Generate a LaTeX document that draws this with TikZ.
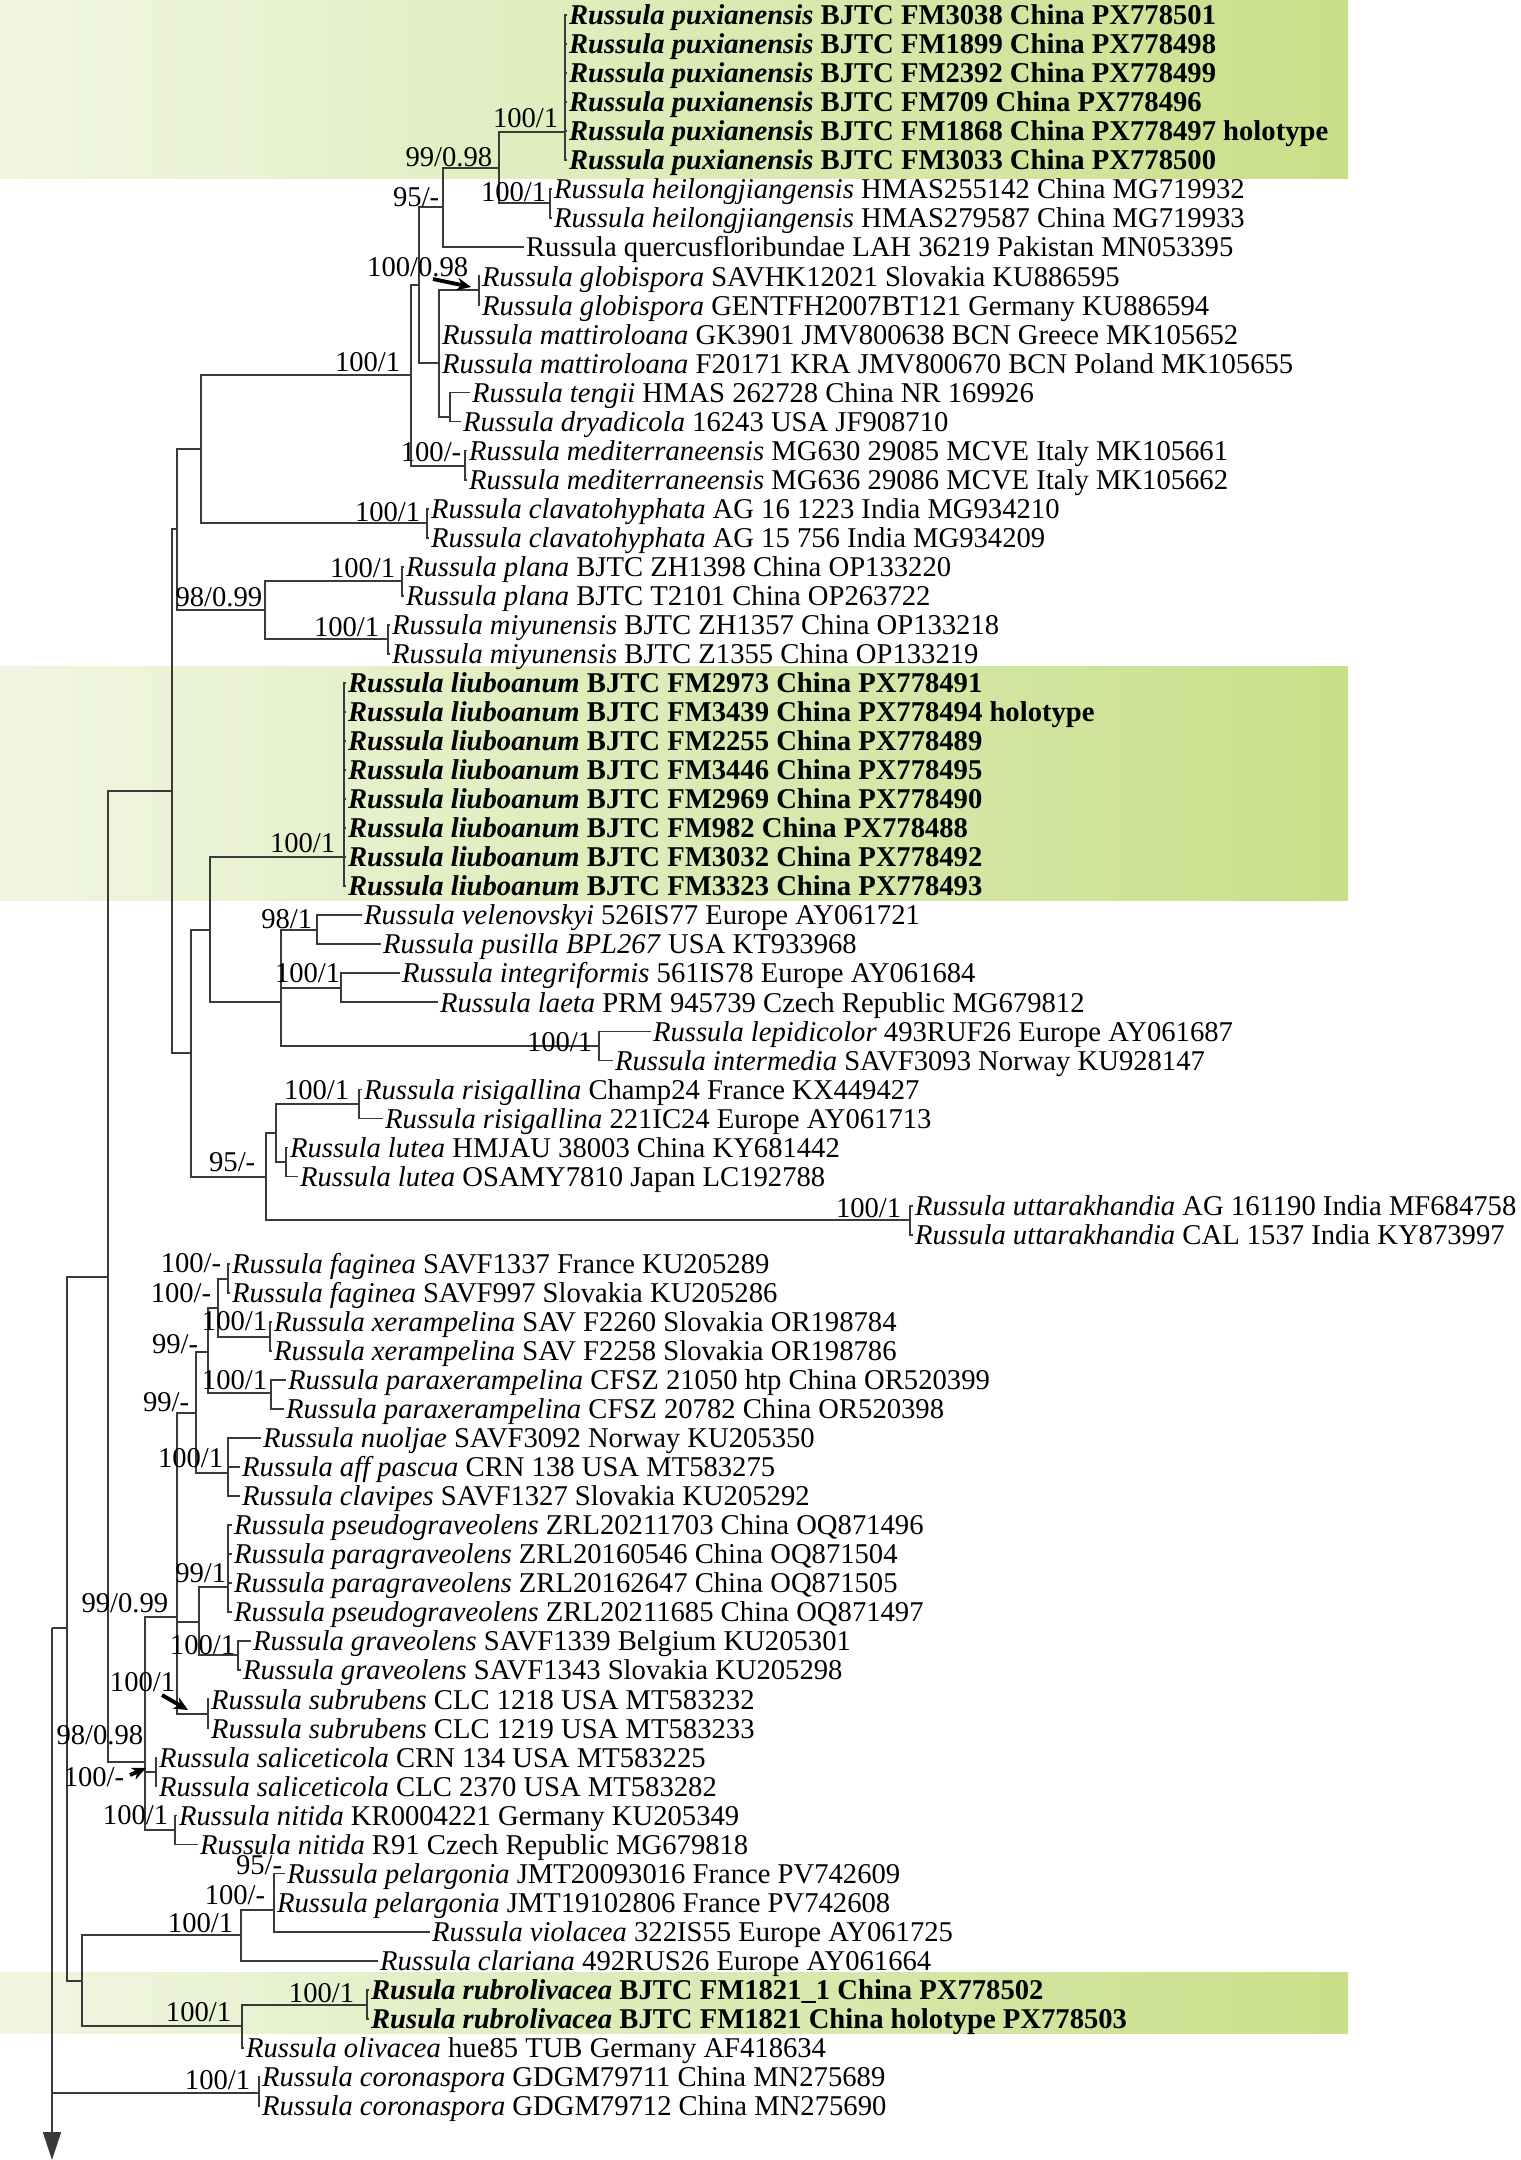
\documentclass[tikz,border=0pt]{standalone}
\usepackage{fontspec}
\setmainfont{Liberation Serif}
\usetikzlibrary{arrows.meta}
\definecolor{gA}{HTML}{F1F6E2}
\definecolor{gB}{HTML}{D7E8AC}
\definecolor{gC}{HTML}{B6D35A}
\definecolor{brc}{HTML}{3A3A3A}
\pgfdeclarehorizontalshading{gfade}{100bp}{color(0bp)=(white); color(4bp)=(white); color(25bp)=(gA); color(56bp)=(gB); color(100bp)=(gC)}
\tikzset{
 leafn/.style={anchor=west, inner sep=0.4pt, text height=5.5pt, text depth=0pt, font=\fontsize{8.15}{9}\selectfont},
 lab/.style={anchor=east, inner sep=0.3pt, text height=5.6pt, text depth=0pt, font=\fontsize{8.15}{9}\selectfont},
 br/.style={draw=brc, line width=0.5pt},
 pointer/.style={draw=black, line width=1.1pt, -{Stealth[length=4pt,width=3.6pt]}}
}
\newcommand\lf[4]{\node[leafn] (#1) at (#3,{15+29.04*(#2-1)}) {#4};}
\newcommand\cladeii[3]{\draw[br] (#2) -- (#1 |- #2) -- (#1 |- #3) -- (#3);}
\newcommand\twig[2]{\draw[br] (#1 |- #2) -- (#2);}
\newcommand\BI[2]{\textbf{\textit{#1} #2}}
\begin{document}
\begin{tikzpicture}[x=0.1mm,y=-0.1mm]
\useasboundingbox (0,0) rectangle (1521,2160);
% highlight bands
\shade[shading=gfade] (0,0) rectangle (1348,178);
\shade[shading=gfade] (0,666) rectangle (1348,900);
\shade[shading=gfade] (0,1972) rectangle (1348,2033);

% leaves
\lf{l1}{1}{567}{\BI{Russula puxianensis}{BJTC FM3038 China PX778501}}
\lf{l2}{2}{567}{\BI{Russula puxianensis}{BJTC FM1899 China PX778498}}
\lf{l3}{3}{567}{\BI{Russula puxianensis}{BJTC FM2392 China PX778499}}
\lf{l4}{4}{567}{\BI{Russula puxianensis}{BJTC FM709 China PX778496}}
\lf{l5}{5}{567}{\BI{Russula puxianensis}{BJTC FM1868 China PX778497 holotype}}
\lf{l6}{6}{567}{\BI{Russula puxianensis}{BJTC FM3033 China PX778500}}
\lf{l7}{7}{552}{\textit{Russula heilongjiangensis} HMAS255142 China MG719932}
\lf{l8}{8}{552}{\textit{Russula heilongjiangensis} HMAS279587 China MG719933}
\lf{l9}{9}{524}{Russula quercusfloribundae LAH 36219 Pakistan MN053395}
\lf{l10}{10}{480}{\textit{Russula globispora} SAVHK12021 Slovakia KU886595}
\lf{l11}{11}{480}{\textit{Russula globispora} GENTFH2007BT121 Germany KU886594}
\lf{l12}{12}{440}{\textit{Russula mattiroloana} GK3901 JMV800638 BCN Greece MK105652}
\lf{l13}{13}{440}{\textit{Russula mattiroloana} F20171 KRA JMV800670 BCN Poland MK105655}
\lf{l14}{14}{470}{\textit{Russula tengii} HMAS 262728 China NR 169926}
\lf{l15}{15}{461}{\textit{Russula dryadicola} 16243 USA JF908710}
\lf{l16}{16}{467}{\textit{Russula mediterraneensis} MG630 29085 MCVE Italy MK105661}
\lf{l17}{17}{467}{\textit{Russula mediterraneensis} MG636 29086 MCVE Italy MK105662}
\lf{l18}{18}{429}{\textit{Russula clavatohyphata} AG 16 1223 India MG934210}
\lf{l19}{19}{429}{\textit{Russula clavatohyphata} AG 15 756 India MG934209}
\lf{l20}{20}{404}{\textit{Russula plana} BJTC ZH1398 China OP133220}
\lf{l21}{21}{404}{\textit{Russula plana} BJTC T2101 China OP263722}
\lf{l22}{22}{390}{\textit{Russula miyunensis} BJTC ZH1357 China OP133218}
\lf{l23}{23}{390}{\textit{Russula miyunensis} BJTC Z1355 China OP133219}
\lf{l24}{24}{346}{\BI{Russula liuboanum}{BJTC FM2973 China PX778491}}
\lf{l25}{25}{346}{\BI{Russula liuboanum}{BJTC FM3439 China PX778494 holotype}}
\lf{l26}{26}{346}{\BI{Russula liuboanum}{BJTC FM2255 China PX778489}}
\lf{l27}{27}{346}{\BI{Russula liuboanum}{BJTC FM3446 China PX778495}}
\lf{l28}{28}{346}{\BI{Russula liuboanum}{BJTC FM2969 China PX778490}}
\lf{l29}{29}{346}{\BI{Russula liuboanum}{BJTC FM982 China PX778488}}
\lf{l30}{30}{346}{\BI{Russula liuboanum}{BJTC FM3032 China PX778492}}
\lf{l31}{31}{346}{\BI{Russula liuboanum}{BJTC FM3323 China PX778493}}
\lf{l32}{32}{362}{\textit{Russula velenovskyi} 526IS77 Europe AY061721}
\lf{l33}{33}{381}{\textit{Russula pusilla BPL267} USA KT933968}
\lf{l34}{34}{400}{\textit{Russula integriformis} 561IS78 Europe AY061684}
\lf{l35}{35}{438}{\textit{Russula laeta} PRM 945739 Czech Republic MG679812}
\lf{l36}{36}{651}{\textit{Russula lepidicolor} 493RUF26 Europe AY061687}
\lf{l37}{37}{613}{\textit{Russula intermedia} SAVF3093 Norway KU928147}
\lf{l38}{38}{362}{\textit{Russula risigallina} Champ24 France KX449427}
\lf{l39}{39}{383}{\textit{Russula risigallina} 221IC24 Europe AY061713}
\lf{l40}{40}{288}{\textit{Russula lutea} HMJAU 38003 China KY681442}
\lf{l41}{41}{298}{\textit{Russula lutea} OSAMY7810 Japan LC192788}
\lf{l42}{42}{913}{\textit{Russula uttarakhandia} AG 161190 India MF684758}
\lf{l43}{43}{913}{\textit{Russula uttarakhandia} CAL 1537 India KY873997}
\lf{l44}{44}{230}{\textit{Russula faginea} SAVF1337 France KU205289}
\lf{l45}{45}{230}{\textit{Russula faginea} SAVF997 Slovakia KU205286}
\lf{l46}{46}{272}{\textit{Russula xerampelina} SAV F2260 Slovakia OR198784}
\lf{l47}{47}{272}{\textit{Russula xerampelina} SAV F2258 Slovakia OR198786}
\lf{l48}{48}{286}{\textit{Russula paraxerampelina} CFSZ 21050 htp China OR520399}
\lf{l49}{49}{284}{\textit{Russula paraxerampelina} CFSZ 20782 China OR520398}
\lf{l50}{50}{261}{\textit{Russula nuoljae} SAVF3092 Norway KU205350}
\lf{l51}{51}{240}{\textit{Russula aff pascua} CRN 138 USA MT583275}
\lf{l52}{52}{240}{\textit{Russula clavipes} SAVF1327 Slovakia KU205292}
\lf{l53}{53}{232}{\textit{Russula pseudograveolens} ZRL20211703 China OQ871496}
\lf{l54}{54}{232}{\textit{Russula paragraveolens} ZRL20160546 China OQ871504}
\lf{l55}{55}{232}{\textit{Russula paragraveolens} ZRL20162647 China OQ871505}
\lf{l56}{56}{232}{\textit{Russula pseudograveolens} ZRL20211685 China OQ871497}
\lf{l57}{57}{251}{\textit{Russula graveolens} SAVF1339 Belgium KU205301}
\lf{l58}{58}{241}{\textit{Russula graveolens} SAVF1343 Slovakia KU205298}
\lf{l59}{59}{209}{\textit{Russula subrubens} CLC 1218 USA MT583232}
\lf{l60}{60}{209}{\textit{Russula subrubens} CLC 1219 USA MT583233}
\lf{l61}{61}{157}{\textit{Russula saliceticola} CRN 134 USA MT583225}
\lf{l62}{62}{157}{\textit{Russula saliceticola} CLC 2370 USA MT583282}
\lf{l63}{63}{177}{\textit{Russula nitida} KR0004221 Germany KU205349}
\lf{l64}{64}{198}{\textit{Russula nitida} R91 Czech Republic MG679818}
\lf{l65}{65}{285}{\textit{Russula pelargonia} JMT20093016 France PV742609}
\lf{l66}{66}{275}{\textit{Russula pelargonia} JMT19102806 France PV742608}
\lf{l67}{67}{430}{\textit{Russula violacea} 322IS55 Europe AY061725}
\lf{l68}{68}{378}{\textit{Russula clariana} 492RUS26 Europe AY061664}
\lf{l69}{69}{369}{\BI{Rusula rubrolivacea}{BJTC FM1821\_1 China PX778502}}
\lf{l70}{70}{369}{\BI{Rusula rubrolivacea}{BJTC FM1821 China holotype PX778503}}
\lf{l71}{71}{244}{\textit{Russula olivacea} hue85 TUB Germany AF418634}
\lf{l72}{72}{260}{\textit{Russula coronaspora} GDGM79711 China MN275689}
\lf{l73}{73}{260}{\textit{Russula coronaspora} GDGM79712 China MN275690}

% internal nodes
\coordinate (rt) at (52,1628);
\coordinate (rtend) at (52,2160);
\coordinate (O) at (67,1628);
\coordinate (N) at (108,1277);
\coordinate (G) at (172,791);
\coordinate (E) at (177,529);
\coordinate (D) at (201,449);
\coordinate (A) at (411,375);
\coordinate (B) at (419,285);
\coordinate (n95a) at (443,207);
\coordinate (n99a) at (499,168);
\coordinate (pux) at (565,132);
\coordinate (heil) at (550,203);
\coordinate (C) at (439,363);
\coordinate (glob) at (479,290);
\coordinate (td) at (450,417);
\coordinate (med) at (465,466);
\coordinate (clv) at (427,523);
\coordinate (F) at (265,610);
\coordinate (pla) at (402,581);
\coordinate (miy) at (388,639);
\coordinate (H) at (191,1053);
\coordinate (I) at (210,930);
\coordinate (liu) at (344,857);
\coordinate (J) at (281,1002);
\coordinate (K) at (317,930);
\coordinate (L) at (341,988);
\coordinate (M) at (599,1046);
\coordinate (X) at (266,1177);
\coordinate (dd) at (276,1133);
\coordinate (ris) at (359,1104);
\coordinate (lut) at (286,1162);
\coordinate (utt) at (910,1220);
\coordinate (U) at (145,1762);
\coordinate (bb) at (177,1617);
\coordinate (Y) at (196,1413);
\coordinate (Z) at (208,1352);
\coordinate (Z1) at (218,1308);
\coordinate (fag) at (228,1279);
\coordinate (xer) at (270,1337);
\coordinate (pax) at (271,1393);
\coordinate (aa) at (228,1473);
\coordinate (cc) at (199,1622);
\coordinate (pg) at (228,1587);
\coordinate (grv) at (238,1655);
\coordinate (sub) at (208,1714);
\coordinate (sal) at (156,1772);
\coordinate (nit) at (175,1830);
\coordinate (P) at (82,1981);
\coordinate (Q) at (241,1935);
\coordinate (S) at (274,1910);
\coordinate (R) at (242,2026);
\coordinate (T) at (367,2005);
\coordinate (cor) at (259,2093);

% branches
\draw[br,-{Triangle[length=2.8mm,width=1.8mm]}] (rt) -- (rtend);
\twig{rt}{O} \twig{rt}{cor}
\cladeii{O}{N}{P}
\cladeii{N}{G}{U}
\cladeii{G}{E}{H}
\cladeii{E}{D}{F}
\cladeii{D}{A}{clv}
\cladeii{A}{B}{med}
\cladeii{B}{n95a}{C}
\cladeii{n95a}{n99a}{l9}
\cladeii{n99a}{pux}{heil}
\cladeii{pux}{l1}{l6} \twig{pux}{l2} \twig{pux}{l3} \twig{pux}{l4} \twig{pux}{l5}
\cladeii{heil}{l7}{l8}
\cladeii{C}{glob}{td} \twig{C}{l12} \twig{C}{l13}
\cladeii{glob}{l10}{l11}
\cladeii{td}{l14}{l15}
\cladeii{med}{l16}{l17}
\cladeii{clv}{l18}{l19}
\cladeii{F}{pla}{miy}
\cladeii{pla}{l20}{l21}
\cladeii{miy}{l22}{l23}
\cladeii{H}{I}{X}
\cladeii{I}{liu}{J}
\cladeii{liu}{l24}{l31} \twig{liu}{l25} \twig{liu}{l26} \twig{liu}{l27} \twig{liu}{l28} \twig{liu}{l29} \twig{liu}{l30}
\cladeii{J}{K}{M} \twig{J}{L}
\cladeii{K}{l32}{l33}
\cladeii{L}{l34}{l35}
\cladeii{M}{l36}{l37}
\cladeii{X}{dd}{utt}
\cladeii{dd}{ris}{lut}
\cladeii{ris}{l38}{l39}
\cladeii{lut}{l40}{l41}
\cladeii{utt}{l42}{l43}
\cladeii{U}{bb}{nit} \twig{U}{sal}
\cladeii{bb}{Y}{sub} \twig{bb}{cc}
\cladeii{Y}{Z}{aa}
\cladeii{Z}{Z1}{pax}
\cladeii{Z1}{fag}{xer}
\cladeii{fag}{l44}{l45}
\cladeii{xer}{l46}{l47}
\cladeii{pax}{l48}{l49}
\cladeii{aa}{l50}{l52} \twig{aa}{l51}
\cladeii{cc}{pg}{grv}
\cladeii{pg}{l53}{l56} \twig{pg}{l54} \twig{pg}{l55}
\cladeii{grv}{l57}{l58}
\cladeii{sub}{l59}{l60}
\cladeii{sal}{l61}{l62}
\cladeii{nit}{l63}{l64}
\cladeii{P}{Q}{R}
\cladeii{Q}{S}{l68}
\cladeii{S}{l65}{l67} \twig{S}{l66}
\cladeii{R}{T}{l71}
\cladeii{T}{l69}{l70}
\cladeii{cor}{l72}{l73}

% support values
\node[lab] (s1) at (560,118) {100/1};
\node[lab] (s2) at (494,157) {99/0.98};
\node[lab] (s3) at (548,192) {100/1};
\node[lab] (s4) at (441,197) {95/-};
\node[lab] (s5) at (470,267) {100/0.98};
\node[lab] (s6) at (402,362) {100/1};
\node[lab] (s7) at (463,452) {100/-};
\node[lab] (s8) at (422,512) {100/1};
\node[lab] (s9) at (397,568) {100/1};
\node[lab] (s10) at (264,597) {98/0.99};
\node[lab] (s11) at (381,627) {100/1};
\node[lab] (s12) at (337,843) {100/1};
\node[lab] (s13) at (314,919) {98/1};
\node[lab] (s14) at (342,973) {100/1};
\node[lab] (s15) at (594,1042) {100/1};
\node[lab] (s16) at (351,1090) {100/1};
\node[lab] (s17) at (257,1162) {95/-};
\node[lab] (s18) at (903,1208) {100/1};
\node[lab] (s19) at (223,1263) {100/-};
\node[lab] (s20) at (213,1293) {100/-};
\node[lab] (s21) at (269,1321) {100/1};
\node[lab] (s22) at (200,1344) {99/-};
\node[lab] (s23) at (269,1380) {100/1};
\node[lab] (s24) at (191,1402) {99/-};
\node[lab] (s25) at (225,1458) {100/1};
\node[lab] (s26) at (228,1573) {99/1};
\node[lab] (s27) at (170,1603) {99/0.99};
\node[lab] (s28) at (237,1645) {100/1};
\node[lab] (s29) at (177,1682) {100/1};
\node[lab] (s30) at (145,1735) {98/0.98};
\node[lab] (s31) at (126,1777) {100/-};
\node[lab] (s32) at (170,1815) {100/1};
\node[lab] (s33) at (284,1865) {95/-};
\node[lab] (s34) at (267,1895) {100/-};
\node[lab] (s35) at (235,1923) {100/1};
\node[lab] (s36) at (356,1993) {100/1};
\node[lab] (s37) at (233,2012) {100/1};
\node[lab] (s38) at (252,2080) {100/1};

% pointer arrows
\coordinate (p1s) at (433,279); \coordinate (p1e) at (471,287);
\coordinate (p2s) at (162,1695); \coordinate (p2e) at (188,1710);
\coordinate (p3s) at (130,1775); \coordinate (p3e) at (146,1768);
\draw[pointer] (p1s) -- (p1e);
\draw[pointer] (p2s) -- (p2e);
\draw[pointer] (p3s) -- (p3e);
\end{tikzpicture}
\end{document}
